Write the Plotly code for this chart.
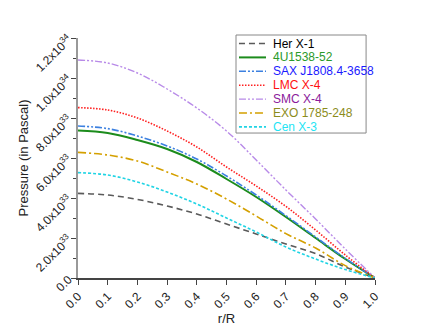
import plotly.graph_objects as go

# radial coordinate r/R
r = [0.0, 0.1, 0.2, 0.3, 0.4, 0.5, 0.6, 0.7, 0.8, 0.9, 1.0]

# pressure in units of 1e33 Pa
her_x1 = [4.23, 4.15, 3.93, 3.60, 3.20, 2.70, 2.20, 1.70, 1.22, 0.55, 0.0]
u1538 = [7.37, 7.25, 6.90, 6.45, 5.80, 4.95, 4.05, 3.05, 2.00, 0.95, 0.0]
sax = [7.60, 7.47, 7.10, 6.60, 5.95, 5.10, 4.15, 3.12, 2.05, 0.98, 0.0]
lmc = [8.52, 8.40, 8.00, 7.35, 6.55, 5.55, 4.60, 3.58, 2.40, 1.15, 0.0]
smc = [10.90, 10.75, 10.25, 9.45, 8.50, 7.35, 5.90, 4.40, 2.95, 1.45, 0.0]
exo = [6.28, 6.15, 5.85, 5.30, 4.70, 3.95, 3.10, 2.22, 1.50, 0.62, 0.0]
cen_x3 = [5.27, 5.15, 4.80, 4.30, 3.70, 3.00, 2.30, 1.55, 0.95, 0.42, 0.0]

names = ["Her X-1", "4U1538-52", "SAX J1808.4-3658", "LMC X-4", "SMC X-4", "EXO 1785-248", "Cen X-3"]

x_ticks = [0.0, 0.1, 0.2, 0.3, 0.4, 0.5, 0.6, 0.7, 0.8, 0.9, 1.0]
y_ticks = [0, 2e33, 4e33, 6e33, 8e33, 1e34, 1.2e34]
y_labels = ["0.0", "2.0x10<sup>33</sup>", "4.0x10<sup>33</sup>", "6.0x10<sup>33</sup>",
            "8.0x10<sup>33</sup>", "1.0x10<sup>34</sup>", "1.2x10<sup>34</sup>"]

# line colour, legend text colour, dash, width
styles = [
    ("#5a5a5a", "#000000", "6px,4px", 1.6),
    ("#1c8c1c", "#2a9a2a", "solid", 2.0),
    ("#3c80e0", "#1a1aff", "7px,2px,2px,2px,2px,2px", 1.6),
    ("#ff2020", "#ff1010", "1.5px,1.5px", 1.6),
    ("#b88ae8", "#8b1a9b", "7px,2px,2px,2px,2px,2px", 1.4),
    ("#d4a000", "#8c8c1c", "8px,3px,2px,3px", 1.6),
    ("#20d4e4", "#1ee4f4", "3px,2px", 1.6),
]
data = [her_x1, u1538, sax, lmc, smc, exo, cen_x3]

fig = go.Figure()
for name, vals, (lc, tc, dash, w) in zip(names, data, styles):
    fig.add_trace(go.Scatter(
        x=r, y=[v * 1e33 for v in vals],
        mode="lines", line=dict(color=lc, dash=dash, width=w, shape="spline"),
        name=name, showlegend=False,
    ))

# hand-made legend (plotly's rows are too tall)
fig.add_shape(type="rect", xref="paper", yref="paper",
              x0=0.532, x1=0.970, y0=0.604, y1=1.0125,
              line=dict(color="#888888", width=1), fillcolor="white", layer="above")
for i, (name, (lc, tc, dash, w)) in enumerate(zip(names, styles)):
    yp = (270 - (35.5 + 13.9 * i)) / 240
    fig.add_shape(type="line", xref="paper", yref="paper",
                  x0=0.542, x1=0.633, y0=yp, y1=yp,
                  line=dict(color=lc, dash=dash, width=w), layer="above")
    fig.add_annotation(x=0.650, y=yp, xref="paper", yref="paper", text=name,
                       showarrow=False, xanchor="left", yanchor="middle",
                       font=dict(size=12, color=tc))

fig.update_layout(
    width=436, height=334,
    margin=dict(l=70, r=69, t=30, b=64),
    paper_bgcolor="white", plot_bgcolor="white",
    font=dict(family="Liberation Sans, Arial", size=12, color="#222222"),
    showlegend=False,
)

fig.update_xaxes(
    range=[0, 1], tickvals=x_ticks, ticktext=[f"{t:.1f}" for t in x_ticks],
    tickangle=-45, ticks="outside", ticklen=5, tickcolor="#444444",
    showline=True, linecolor="#444444", linewidth=1.5, showgrid=False, zeroline=False,
    title=dict(text="r/R", font=dict(size=13), standoff=2),
    tickfont=dict(size=12), automargin=False,
)
fig.update_yaxes(
    range=[0, 1.2e34], tickvals=y_ticks, ticktext=y_labels,
    tickangle=-45, ticks="outside", ticklen=5, tickcolor="#444444",
    minor=dict(dtick=1e33, ticks="outside", ticklen=3, tickcolor="#444444"),
    showline=True, linecolor="#999999", linewidth=2, showgrid=False, zeroline=False,
    title=dict(text="Pressure (in Pascal)", font=dict(size=13), standoff=0),
    tickfont=dict(size=12), automargin=False,
)

fig.write_html("out.html")
